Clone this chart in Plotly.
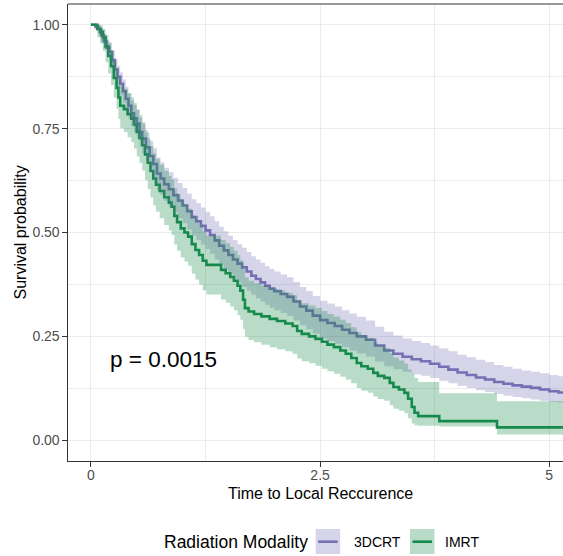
import plotly.graph_objects as go

# ---------------- data ----------------
t_3dcrt = [0, 0.05, 0.08, 0.11, 0.14, 0.17, 0.2, 0.23, 0.26, 0.29, 0.32, 0.35, 0.38, 0.41, 0.44, 0.47,
           0.5, 0.53, 0.56, 0.6, 0.64, 0.68, 0.72, 0.76, 0.8, 0.85, 0.9, 0.95, 1.0, 1.05, 1.1, 1.15,
           1.2, 1.25, 1.3, 1.35, 1.4, 1.45, 1.5, 1.55, 1.6, 1.65, 1.7, 1.75, 1.8, 1.85, 1.9, 1.95,
           2.0, 2.07, 2.14, 2.21, 2.28, 2.35, 2.42, 2.5, 2.58, 2.66, 2.74, 2.82, 2.9, 3.0, 3.1, 3.2,
           3.3, 3.4, 3.5, 3.6, 3.7, 3.8, 3.9, 4.0, 4.1, 4.2, 4.3, 4.4, 4.5, 4.6, 4.7, 4.8, 4.9, 5.0,
           5.1, 5.2]
s_3dcrt = [1.0, 0.995, 0.99, 0.975, 0.96, 0.945, 0.935, 0.915, 0.893, 0.875, 0.858, 0.84, 0.822, 0.805,
           0.787, 0.775, 0.762, 0.742, 0.726, 0.705, 0.684, 0.665, 0.642, 0.63, 0.616, 0.604, 0.59,
           0.577, 0.565, 0.551, 0.537, 0.527, 0.516, 0.505, 0.494, 0.481, 0.468, 0.457, 0.446, 0.435,
           0.425, 0.416, 0.406, 0.396, 0.388, 0.38, 0.372, 0.365, 0.359, 0.352, 0.345, 0.334, 0.322,
           0.312, 0.3, 0.289, 0.282, 0.275, 0.266, 0.258, 0.25, 0.242, 0.228, 0.216, 0.208, 0.201,
           0.195, 0.19, 0.184, 0.177, 0.17, 0.163, 0.157, 0.151, 0.146, 0.14, 0.136, 0.132, 0.129,
           0.126, 0.122, 0.118, 0.115, 0.113]
up_3dcrt = [1.0, 1.0, 1.0, 0.988, 0.977, 0.964, 0.956, 0.938, 0.918, 0.901, 0.885, 0.868, 0.851, 0.835,
            0.818, 0.807, 0.795, 0.776, 0.761, 0.741, 0.721, 0.703, 0.681, 0.669, 0.656, 0.645, 0.631,
            0.619, 0.607, 0.594, 0.58, 0.571, 0.56, 0.55, 0.539, 0.527, 0.514, 0.503, 0.492, 0.482,
            0.472, 0.463, 0.453, 0.443, 0.435, 0.427, 0.419, 0.412, 0.406, 0.399, 0.392, 0.381, 0.369,
            0.359, 0.347, 0.336, 0.329, 0.322, 0.313, 0.305, 0.297, 0.288, 0.273, 0.261, 0.252, 0.245,
            0.239, 0.234, 0.228, 0.221, 0.214, 0.206, 0.2, 0.194, 0.188, 0.181, 0.177, 0.172, 0.168,
            0.165, 0.161, 0.157, 0.154, 0.152]
lo_3dcrt = [1.0, 0.988, 0.978, 0.96, 0.942, 0.925, 0.913, 0.891, 0.867, 0.848, 0.83, 0.811, 0.792, 0.774,
            0.755, 0.742, 0.728, 0.707, 0.69, 0.668, 0.646, 0.626, 0.602, 0.59, 0.575, 0.562, 0.548,
            0.534, 0.522, 0.507, 0.493, 0.482, 0.471, 0.46, 0.449, 0.435, 0.422, 0.411, 0.4, 0.389,
            0.379, 0.369, 0.36, 0.35, 0.342, 0.334, 0.326, 0.319, 0.313, 0.306, 0.299, 0.288, 0.277,
            0.267, 0.256, 0.245, 0.239, 0.232, 0.224, 0.216, 0.209, 0.201, 0.189, 0.178, 0.171, 0.165,
            0.159, 0.155, 0.15, 0.143, 0.137, 0.131, 0.126, 0.12, 0.116, 0.111, 0.107, 0.104, 0.101,
            0.098, 0.095, 0.092, 0.09, 0.088]

t_imrt = [0, 0.04, 0.07, 0.1, 0.13, 0.16, 0.19, 0.22, 0.25, 0.28, 0.3, 0.32, 0.36, 0.4, 0.44, 0.47, 0.5,
          0.53, 0.56, 0.59, 0.62, 0.65, 0.68, 0.71, 0.75, 0.8, 0.85, 0.88, 0.91, 0.94, 0.98, 1.02, 1.06,
          1.1, 1.14, 1.18, 1.22, 1.26, 1.42, 1.47, 1.52, 1.56, 1.6, 1.63, 1.66, 1.68, 1.72, 1.78, 1.86,
          1.95, 2.03, 2.12, 2.2, 2.25, 2.3, 2.38, 2.45, 2.52, 2.58, 2.65, 2.72, 2.78, 2.84, 2.9, 2.95,
          3.02, 3.08, 3.13, 3.2, 3.26, 3.3, 3.36, 3.42, 3.46, 3.5, 3.53, 3.57, 3.8, 4.43, 5.2]
s_imrt = [1.0, 1.0, 0.99, 0.983, 0.97, 0.948, 0.925, 0.9, 0.872, 0.848, 0.825, 0.805, 0.797, 0.785, 0.774,
          0.76, 0.742, 0.727, 0.71, 0.688, 0.668, 0.648, 0.63, 0.615, 0.6, 0.585, 0.572, 0.562, 0.54,
          0.525, 0.51, 0.5, 0.49, 0.472, 0.458, 0.446, 0.432, 0.422, 0.41, 0.402, 0.393, 0.384, 0.372,
          0.36, 0.338, 0.318, 0.31, 0.304, 0.298, 0.292, 0.287, 0.281, 0.275, 0.263, 0.256, 0.25,
          0.244, 0.237, 0.23, 0.224, 0.216, 0.208, 0.198, 0.186, 0.178, 0.172, 0.162, 0.155, 0.15,
          0.138, 0.128, 0.122, 0.114, 0.1, 0.08, 0.066, 0.058, 0.046, 0.031, 0.031]
up_imrt = [1.0, 1.0, 1.0, 0.998, 0.99, 0.976, 0.958, 0.937, 0.913, 0.892, 0.871, 0.853, 0.846, 0.835,
           0.825, 0.812, 0.796, 0.782, 0.766, 0.746, 0.727, 0.708, 0.691, 0.677, 0.663, 0.648, 0.636,
           0.627, 0.606, 0.592, 0.577, 0.568, 0.558, 0.541, 0.528, 0.516, 0.503, 0.493, 0.482, 0.474,
           0.465, 0.456, 0.445, 0.433, 0.412, 0.392, 0.384, 0.378, 0.372, 0.366, 0.361, 0.355, 0.349,
           0.337, 0.33, 0.324, 0.318, 0.311, 0.304, 0.298, 0.29, 0.282, 0.272, 0.26, 0.252, 0.246,
           0.235, 0.228, 0.222, 0.21, 0.199, 0.192, 0.184, 0.17, 0.16, 0.15, 0.14, 0.113, 0.094, 0.085]
lo_imrt = [1.0, 1.0, 0.97, 0.955, 0.937, 0.91, 0.883, 0.855, 0.825, 0.798, 0.773, 0.751, 0.742, 0.729,
           0.717, 0.702, 0.683, 0.667, 0.649, 0.626, 0.605, 0.584, 0.565, 0.55, 0.534, 0.518, 0.505,
           0.494, 0.471, 0.456, 0.44, 0.43, 0.42, 0.401, 0.387, 0.375, 0.361, 0.351, 0.339, 0.331,
           0.322, 0.313, 0.301, 0.29, 0.268, 0.249, 0.241, 0.236, 0.23, 0.224, 0.219, 0.214, 0.208,
           0.197, 0.19, 0.185, 0.179, 0.172, 0.166, 0.16, 0.153, 0.146, 0.137, 0.126, 0.119, 0.114,
           0.105, 0.099, 0.095, 0.084, 0.076, 0.071, 0.065, 0.053, 0.04, 0.036, 0.035, 0.033, 0.014, 0.012]

groups = ["3DCRT", "IMRT"]
legend_title = "Radiation Modality"
x_title = "Time to Local Reccurence"
y_title = "Survival probability"
pval_text = "p = 0.0015"
x_ticks = [0, 2.5, 5]
x_ticklabels = ["0", "2.5", "5"]
y_ticks = [0, 0.25, 0.5, 0.75, 1.0]
y_ticklabels = ["0.00", "0.25", "0.50", "0.75", "1.00"]

# ---------------- style ----------------
W, H = 563, 556
ML, MR, MT, MB = 68, 0, 4, 95
FONT = "Liberation Sans, Arial, sans-serif"
line_col = {"3DCRT": "#7570B3", "IMRT": "#168A4C"}
band_col = {"3DCRT": "rgba(117,112,179,0.30)", "IMRT": "rgba(22,138,76,0.30)"}

series = {
    "3DCRT": (t_3dcrt, s_3dcrt, up_3dcrt, lo_3dcrt),
    "IMRT": (t_imrt, s_imrt, up_imrt, lo_imrt),
}

fig = go.Figure()
# step lines first
for g in groups:
    t, s, u, l = series[g]
    fig.add_trace(go.Scatter(x=t, y=s, mode="lines", line=dict(color=line_col[g], width=2.6, shape="hv"),
                             showlegend=False, hoverinfo="skip"))
# confidence bands on top
for g in groups:
    t, s, u, l = series[g]
    fig.add_trace(go.Scatter(x=t, y=u, mode="lines", line=dict(width=0, shape="hv"),
                             showlegend=False, hoverinfo="skip"))
    fig.add_trace(go.Scatter(x=t, y=l, mode="lines", line=dict(width=0, shape="hv"),
                             fill="tonexty", fillcolor=band_col[g], showlegend=False, hoverinfo="skip"))

pw = W - ML - MR
ph = H - MT - MB


def px2paper(px, py):
    return (px - ML) / pw, (H - MB - py) / ph


axis_common = dict(
    showline=True, linecolor="#333333", linewidth=1.1, mirror=False,
    ticks="outside", ticklen=4.5, tickwidth=1.1, tickcolor="#333333",
    tickfont=dict(family=FONT, size=14, color="#4D4D4D"),
    showgrid=True, gridcolor="#EBEBEB", gridwidth=1.2, zeroline=False,
)

fig.update_layout(
    width=W, height=H,
    margin=dict(l=ML, r=MR, t=MT, b=MB),
    paper_bgcolor="white", plot_bgcolor="white",
    font=dict(family=FONT, color="black"),
    xaxis=dict(range=[-0.25, 5.15], tickvals=x_ticks, ticktext=x_ticklabels, ticklabelstandoff=-3,
               minor=dict(tickvals=[1.25, 3.75], showgrid=True, gridcolor="#EBEBEB", gridwidth=0.6, ticklen=0),
               **axis_common),
    yaxis=dict(range=[-0.05, 1.05], tickvals=y_ticks, ticktext=y_ticklabels,
               minor=dict(tickvals=[0.125, 0.375, 0.625, 0.875], showgrid=True, gridcolor="#EBEBEB",
                          gridwidth=0.6, ticklen=0),
               **axis_common),
    showlegend=False,
)

# top border of panel
fig.add_shape(type="line", xref="paper", yref="paper", x0=0, x1=1, y0=1, y1=1,
              line=dict(color="#333333", width=1.1))

# p-value
fig.add_annotation(x=0.187, y=0.195, xref="x", yref="y", text=pval_text, showarrow=False,
                   xanchor="left", yanchor="middle", font=dict(family=FONT, size=22.5, color="black"))

# axis titles
ax, ay = px2paper(320, 493)
fig.add_annotation(x=ax, y=ay, xref="paper", yref="paper", text=x_title, showarrow=False,
                   xanchor="center", yanchor="middle", font=dict(family=FONT, size=16, color="black"))
ax, ay = px2paper(20, 232.5)
fig.add_annotation(x=ax, y=ay, xref="paper", yref="paper", text=y_title, showarrow=False, textangle=-90,
                   xanchor="center", yanchor="middle", font=dict(family=FONT, size=16, color="black"))

# manual legend
lx, ly = px2paper(161.5, 541.7)
fig.add_annotation(x=lx, y=ly, xref="paper", yref="paper", text=legend_title, showarrow=False,
                   xanchor="left", yanchor="middle", font=dict(family=FONT, size=17.5, color="black"))
key_x = {"3DCRT": 315.7, "IMRT": 410}
lab_x = {"3DCRT": 351.5, "IMRT": 443}
for g in groups:
    x0, y0 = px2paper(key_x[g], 554)
    x1, y1 = px2paper(key_x[g] + 24.5, 529)
    fig.add_shape(type="rect", xref="paper", yref="paper", x0=x0, x1=x1, y0=y0, y1=y1,
                  fillcolor=band_col[g], line=dict(width=0))
    a0, b0 = px2paper(key_x[g] + 2.5, 541.7)
    a1, _ = px2paper(key_x[g] + 22, 541.7)
    fig.add_shape(type="line", xref="paper", yref="paper", x0=a0, x1=a1, y0=b0, y1=b0,
                  line=dict(color=line_col[g], width=2.6))
    tx, ty = px2paper(lab_x[g], 541.7)
    fig.add_annotation(x=tx, y=ty, xref="paper", yref="paper", text=g, showarrow=False,
                       xanchor="left", yanchor="middle", font=dict(family=FONT, size=14, color="black"))

fig.write_html("out.html")
